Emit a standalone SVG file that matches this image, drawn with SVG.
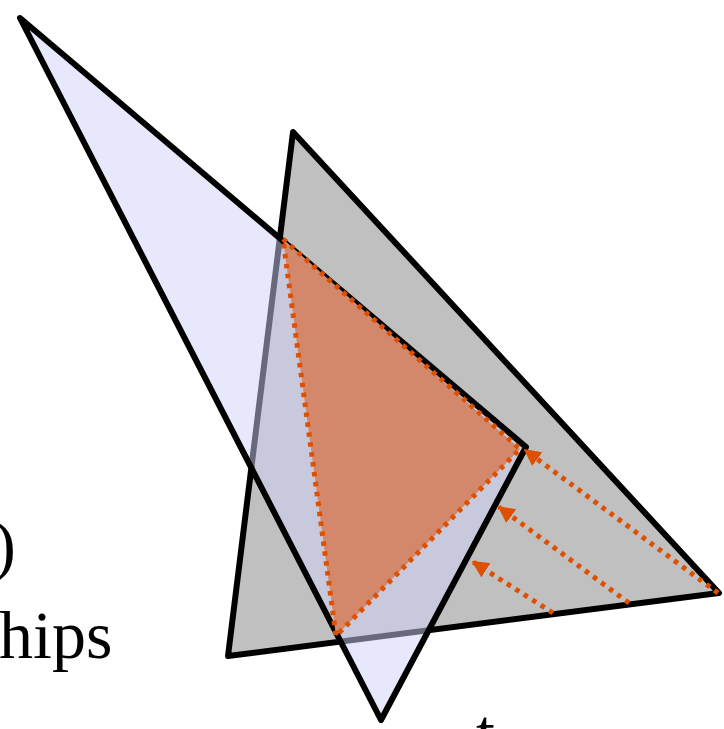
<svg xmlns="http://www.w3.org/2000/svg" width="724" height="729" viewBox="0 0 724 729">
<style>
.edge{stroke:#000;stroke-width:6;stroke-linejoin:round}
.dot{stroke:#dd5000;stroke-width:5;stroke-dasharray:4.5 5.5;fill:none}
.txt{font-family:"Liberation Serif",serif;font-size:68px;fill:#000}
</style>
<defs>
<marker id="ah" viewBox="0 0 10 10" refX="9" refY="5" markerWidth="3.4" markerHeight="3.4" orient="auto" markerUnits="strokeWidth">
<path d="M0,0 L10,5 L0,10 Z" fill="#dd5000"/>
</marker>
</defs>
<text class="txt" x="16" y="568" text-anchor="end">)</text>
<text class="txt" x="-1" y="658">hips</text>
<text class="txt" x="476" y="756">t</text>
<g id="gray">
<polygon class="edge" points="293,132 719,593 228,656" fill="#c0c0c0"/>
</g>
<g id="lavender">
<polygon points="20,18 526,447 381,720" fill="#d2d2f9" fill-opacity="0.5" stroke="#000" stroke-width="6" stroke-linejoin="round"/>
</g>
<g id="orange">
<polygon points="283,239 520,449 336,636" fill="#d3886c"/>
<polygon class="dot" points="283,239 520,449 336,636"/>
</g>
<g id="connectors">
<line class="dot" x1="718" y1="593" x2="525" y2="450" marker-end="url(#ah)"/>
<line class="dot" x1="629" y1="603" x2="499" y2="507" marker-end="url(#ah)"/>
<line class="dot" x1="553" y1="613" x2="473" y2="562" marker-end="url(#ah)"/>
</g>
</svg>
